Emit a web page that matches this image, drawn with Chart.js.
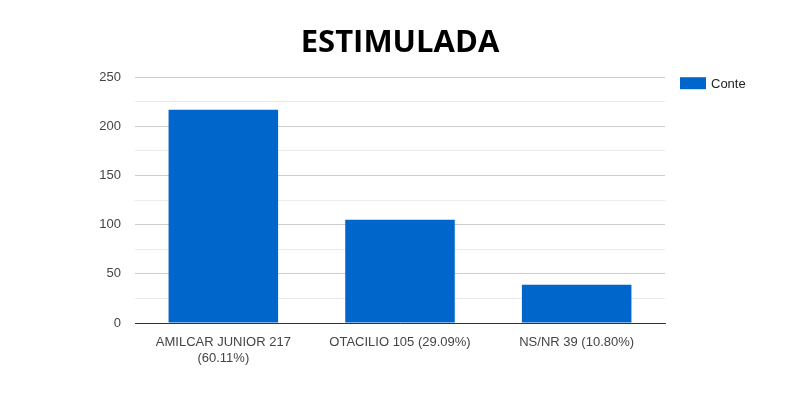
<!DOCTYPE html>
<html>
<head>
<meta charset="utf-8">
<script src="https://cdn.jsdelivr.net/npm/chart.js@4"></script>
<style>
  html, body { margin: 0; padding: 0; background: #fff; }
  #wrap { width: 800px; height: 400px; }
</style>
</head>
<body>
<div id="wrap"><canvas id="myChart" width="800" height="400"></canvas></div>
<script>
const categories = [['AMILCAR JUNIOR 217', '(60.11%)'], 'OTACILIO 105 (29.09%)', 'NS/NR 39 (10.80%)'];
const values = [217, 105, 39];
const seriesName = 'Conte';
const yTicks = [0, 50, 100, 150, 200, 250];

const barColor = '#0066cc';

// legend drawn beside the plot, like the original
const sideLegend = {
    id: 'sideLegend',
    afterDraw(chart) {
        const c = chart.ctx;
        const a = chart.chartArea;
        const x = a.right + 15;
        const y = a.top + 6;
        c.save();
        c.fillStyle = chart.data.datasets[0].backgroundColor;
        c.fillRect(x, y - 6, 26, 12);
        c.fillStyle = '#222';
        c.font = '13px "Liberation Sans", Arial, sans-serif';
        c.textBaseline = 'middle';
        c.fillText(chart.data.datasets[0].label, x + 31, y + 1);
        c.restore();
    }
};

const ctx = document.getElementById('myChart').getContext('2d');
const myChart = new Chart(ctx, {
    type: 'bar',
    data: {
        labels: categories,
        datasets: [{
            label: seriesName,
            data: values,
            backgroundColor: barColor,
            borderWidth: 0,
            categoryPercentage: 0.62,
            barPercentage: 1
        }]
    },
    options: {
        responsive: false,
        animation: false,
        layout: { padding: 0 },
        plugins: {
            title: {
                display: true,
                text: 'ESTIMULADA',
                color: '#000',
                font: { family: 'Open Sans', size: 31, weight: '700' },
                padding: { top: 25, bottom: 15 }
            },
            legend: { display: false },
            tooltip: { enabled: false }
        },
        scales: {
            x: {
                afterFit: (s) => { s.height = 77; },
                grid: { display: false },
                border: { color: '#333', width: 1 },
                ticks: { color: '#444', font: { family: 'Liberation Sans', size: 13 }, padding: 4, maxRotation: 0 }
            },
            y: {
                min: 0,
                max: 250,
                afterFit: (s) => { s.width = 135; },
                border: { display: false },
                grid: {
                    drawTicks: false,
                    color: (c) => (c.tick && c.tick.value % 50 === 0) ? '#cccccc' : '#ebebeb'
                },
                ticks: {
                    stepSize: 25,
                    padding: 14,
                    color: '#444',
                    font: { family: 'Liberation Sans', size: 13 },
                    callback: (v) => yTicks.includes(v) ? v : ''
                }
            },
            // empty axis on the right just to leave room for the legend
            yRight: {
                position: 'right',
                min: 0,
                max: 250,
                afterFit: (s) => { s.width = 135; },
                border: { display: false },
                grid: { drawOnChartArea: false, drawTicks: false },
                ticks: { display: false }
            }
        }
    },
    plugins: [sideLegend]
});
</script>
</body>
</html>
